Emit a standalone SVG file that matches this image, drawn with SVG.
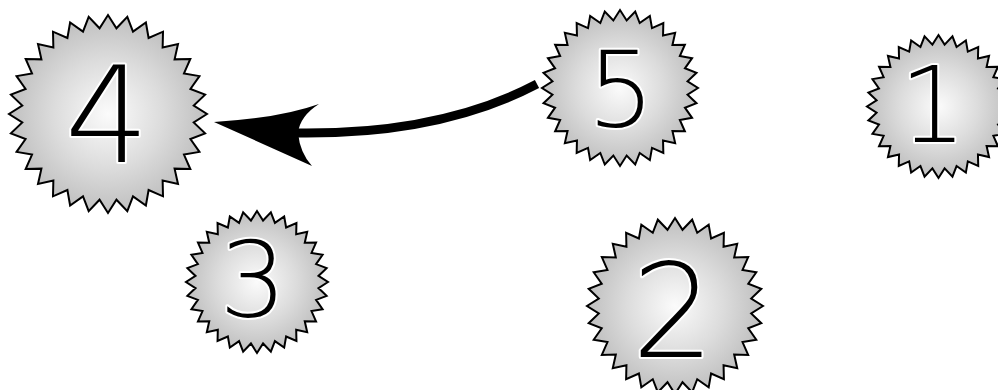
<svg xmlns="http://www.w3.org/2000/svg" xmlns:xlink="http://www.w3.org/1999/xlink" width="998" height="390" viewBox="0 0 998 390">
<defs>
<radialGradient id="g" cx="0.5" cy="0.5" r="0.5">
<stop offset="0" stop-color="#fbfbfb"/>
<stop offset="0.55" stop-color="#dcdcdc"/>
<stop offset="1" stop-color="#bfbfbf"/>
</radialGradient>
<polygon id="star" points="100,0 86.58,8.53 98.08,19.51 83.25,25.25 92.39,38.27 76.73,41.01 83.15,55.56 67.25,55.19 70.71,70.71 55.19,67.25 55.56,83.15 41.01,76.73 38.27,92.39 25.25,83.25 19.51,98.08 8.53,86.58 0,100 -8.53,86.58 -19.51,98.08 -25.25,83.25 -38.27,92.39 -41.01,76.73 -55.56,83.15 -55.19,67.25 -70.71,70.71 -67.25,55.19 -83.15,55.56 -76.73,41.01 -92.39,38.27 -83.25,25.25 -98.08,19.51 -86.58,8.53 -100,0 -86.58,-8.53 -98.08,-19.51 -83.25,-25.25 -92.39,-38.27 -76.73,-41.01 -83.15,-55.56 -67.25,-55.19 -70.71,-70.71 -55.19,-67.25 -55.56,-83.15 -41.01,-76.73 -38.27,-92.39 -25.25,-83.25 -19.51,-98.08 -8.53,-86.58 0,-100 8.53,-86.58 19.51,-98.08 25.25,-83.25 38.27,-92.39 41.01,-76.73 55.56,-83.15 55.19,-67.25 70.71,-70.71 67.25,-55.19 83.15,-55.56 76.73,-41.01 92.39,-38.27 83.25,-25.25 98.08,-19.51 86.58,-8.53" fill="url(#g)" stroke="#000" stroke-width="2" stroke-linejoin="miter" vector-effect="non-scaling-stroke"/>
</defs>
<style>
.lbl{font-family:"DejaVu Sans","Liberation Sans",sans-serif;font-weight:200;text-anchor:middle;fill:#000;stroke:#fff;stroke-width:4;paint-order:stroke;stroke-linejoin:round}
.edge{fill:none;stroke:#000;stroke-width:9}
.head{fill:#000;stroke:none}
</style>
<rect width="998" height="390" fill="#fff"/>
<g id="connectors">
<path class="edge" d="M537,84 Q440,135 296,133"/>
<path class="head" d="M214,122 Q280,118 319,104 Q300,116 298,133 Q300,153 312,166 Z"/>
</g>
<g id="node4">
<use xlink:href="#star" href="#star" transform="translate(108,114) scale(0.99)"/>
<text class="lbl" x="107" y="162" font-size="133">4</text>
</g>
<g id="node5">
<use xlink:href="#star" href="#star" transform="translate(620,88) scale(0.78)"/>
<text class="lbl" x="621" y="127" font-size="106">5</text>
</g>
<g id="node1">
<use xlink:href="#star" href="#star" transform="translate(938.5,106.5) scale(0.715)"/>
<text class="lbl" x="933" y="142" font-size="106">1</text>
</g>
<g id="node3">
<use xlink:href="#star" href="#star" transform="translate(257,282) scale(0.71)"/>
<text class="lbl" x="253" y="317" font-size="106">3</text>
</g>
<g id="node2">
<use xlink:href="#star" href="#star" transform="translate(675,306) scale(0.88)"/>
<text class="lbl" x="673" y="357" font-size="130">2</text>
</g>
</svg>
